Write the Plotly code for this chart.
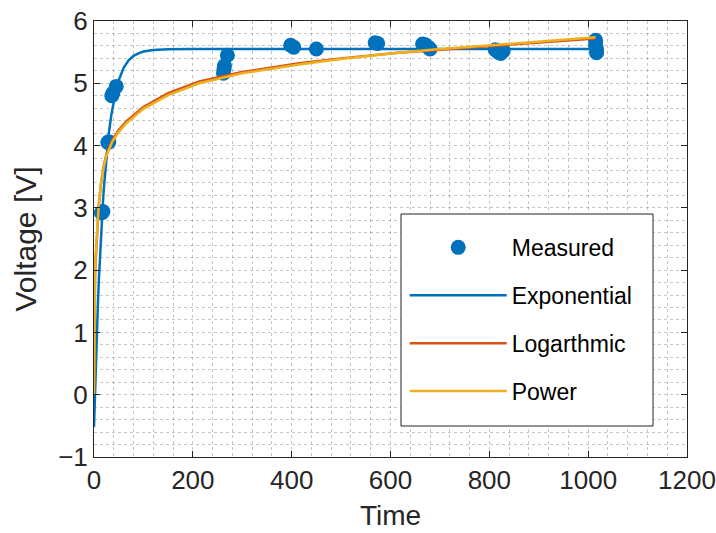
import plotly.graph_objects as go

meas_x = [15, 18, 28, 30, 36, 38, 45, 262, 263, 264, 270, 398, 404, 450,
          569, 574, 665, 670, 676, 680, 812, 818, 823, 828, 1015, 1015, 1017, 1017]
meas_y = [2.92, 2.94, 4.05, 4.06, 4.80, 4.84, 4.95, 5.16, 5.22, 5.28, 5.45, 5.61, 5.58, 5.55,
          5.65, 5.64, 5.63, 5.62, 5.58, 5.55, 5.54, 5.50, 5.48, 5.52, 5.69, 5.62, 5.55, 5.49]

# Exponential fit curve
exp_x = [0, 2, 4, 6, 8, 10, 12, 14, 16, 18, 20, 23, 26, 30, 35, 40, 45, 50, 55, 60,
         70, 80, 90, 100, 120, 150, 200, 1015]
exp_y = [-0.52, 0.05, 0.58, 1.05, 1.48, 1.87, 2.22, 2.54, 2.82, 3.08, 3.32, 3.62, 3.88,
         4.20, 4.49, 4.73, 4.91, 5.05, 5.16, 5.25, 5.37, 5.44, 5.48, 5.51, 5.535, 5.547,
         5.55, 5.55]

# Logarithmic fit curve
log_x = [0.2, 1, 2, 3, 5, 7, 10, 14, 19, 25, 30, 37, 50, 67, 100, 150, 213, 300, 415,
         500, 616, 700, 817, 900, 1015]
log_y = [0.2, 1.4, 1.85, 2.1, 2.45, 2.75, 3.07, 3.38, 3.65, 3.86, 3.97, 4.09, 4.25, 4.40,
         4.62, 4.84, 5.03, 5.18, 5.32, 5.40, 5.49, 5.54, 5.61, 5.66, 5.72]

# Power fit curve
pow_x = [0, 1, 2, 3, 5, 7, 10, 14, 19, 25, 30, 37, 50, 67, 100, 150, 213, 300, 415,
         500, 616, 700, 817, 900, 1015]
pow_y = [0.0, 1.5, 1.95, 2.2, 2.5, 2.8, 3.1, 3.38, 3.63, 3.83, 3.94, 4.06, 4.22, 4.37,
         4.59, 4.81, 5.00, 5.16, 5.30, 5.39, 5.49, 5.55, 5.62, 5.67, 5.74]

legend_names = ["Measured", "Exponential", "Logarthmic", "Power"]
x_title = "Time"
y_title = "Voltage [V]"

BLUE = "#0072BD"
ORANGE = "#D95319"
YELLOW = "#EDB120"
FONT = "Liberation Sans, Arial, sans-serif"
AX = "#262626"

fig = go.Figure()
fig.add_trace(go.Scatter(x=meas_x, y=meas_y, mode="markers", name=legend_names[0],
                         marker=dict(size=15, color=BLUE), legendgroup="a"))
fig.add_trace(go.Scatter(x=exp_x, y=exp_y, mode="lines", name=legend_names[1],
                         line=dict(color=BLUE, width=2.5), legendgroup="b"))
fig.add_trace(go.Scatter(x=log_x, y=log_y, mode="lines", name=legend_names[2],
                         line=dict(color=ORANGE, width=2.5), legendgroup="c"))
fig.add_trace(go.Scatter(x=pow_x, y=pow_y, mode="lines", name=legend_names[3],
                         line=dict(color=YELLOW, width=2.5), legendgroup="d"))

# legend frame (white box above the grid and data, under the legend entries)
fig.add_shape(type="rect", xref="paper", yref="paper",
              x0=0.5177, x1=0.9427, y0=0.0711, y1=0.5573,
              fillcolor="white", line=dict(color=AX, width=1), layer="above")

# x-axis title placed as text below the tick labels
fig.add_annotation(text=x_title, xref="paper", yref="paper", x=0.5, y=-0.1353,
                   xanchor="center", yanchor="middle", showarrow=False, borderpad=0,
                   font=dict(family=FONT, size=28, color=AX))

grid = "rgba(0,0,0,0.22)"
fig.update_layout(
    width=716, height=533,
    margin=dict(l=94, r=29, t=21, b=76),
    paper_bgcolor="white", plot_bgcolor="white",
    font=dict(family=FONT, size=26, color=AX),
    legend=dict(x=0.524, y=0.530, xanchor="left", yanchor="top",
                borderwidth=0, bgcolor="rgba(0,0,0,0)",
                font=dict(size=23, color="black"), tracegroupgap=15,
                itemwidth=97, traceorder="grouped"),
    xaxis=dict(range=[0, 1200], dtick=200, tick0=0, ticks="inside", ticklen=6,
               tickcolor=AX, showline=True, linecolor=AX, linewidth=1, mirror="ticks",
               showgrid=True, gridcolor=grid, griddash="dot", gridwidth=1, zeroline=False,
               automargin=False, tickfont=dict(size=26, color=AX), ticklabeloverflow="allow",
               minor=dict(dtick=40, showgrid=True, gridcolor=grid, griddash="dot", gridwidth=1)),
    yaxis=dict(range=[-1, 6], dtick=1, tick0=0, ticks="inside", ticklen=6,
               tickcolor=AX, showline=True, linecolor=AX, linewidth=1, mirror="ticks",
               showgrid=True, gridcolor=grid, griddash="dot", gridwidth=1, zeroline=False,
               automargin=False, tickfont=dict(size=26, color=AX), ticklabeloverflow="allow",
               minor=dict(dtick=0.2, showgrid=True, gridcolor=grid, griddash="dot", gridwidth=1),
               title=dict(text=y_title, standoff=12, font=dict(size=30, color=AX))),
)

fig.write_html("out.html", config={"displayModeBar": False},
               post_script="document.body.style.margin='0px';document.body.style.overflow='hidden';")
